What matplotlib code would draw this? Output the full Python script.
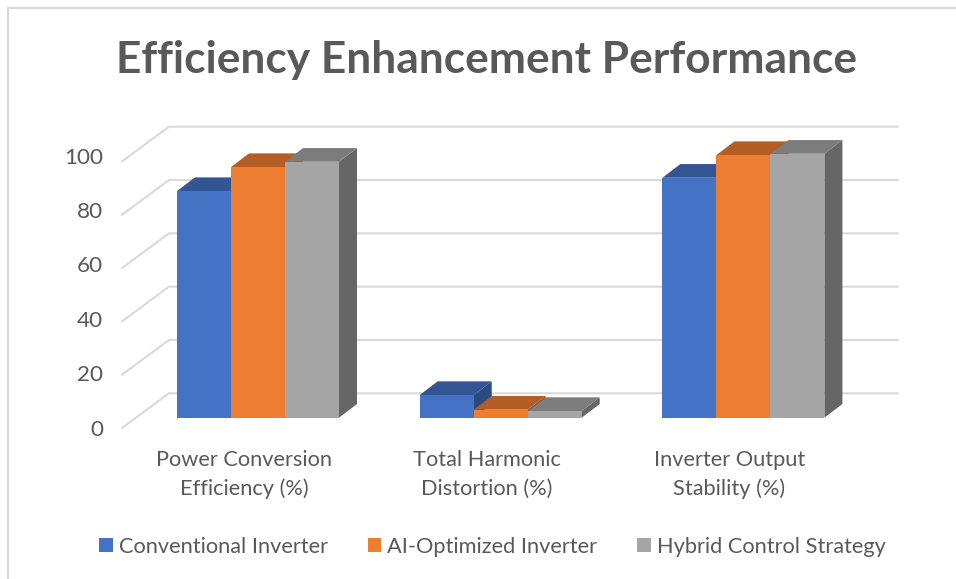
import matplotlib
matplotlib.use("Agg")
import matplotlib.pyplot as plt
from matplotlib.lines import Line2D

categories = ["Power Conversion\nEfficiency (%)", "Total Harmonic\nDistortion (%)", "Inverter Output\nStability (%)"]
series_names = ["Conventional Inverter", "AI-Optimized Inverter", "Hybrid Control Strategy"]
conventional = [85, 8.5, 90]
ai_optimized = [94, 3, 98.5]
hybrid = [96, 2.5, 99]
y_ticks = [0, 20, 40, 60, 80, 100]

front_colors = ["#4472C4", "#ED7D31", "#A5A5A5"]
top_colors = ["#335593", "#B25E25", "#7C7C7C"]
side_colors = ["#2A4A80", "#8F4B1E", "#666666"]
text_color = "#595959"
grid_color = "#D9D9D9"

W, H = 956, 579
plt.rcParams["font.family"] = ["Lato", "DejaVu Sans"]
fig = plt.figure(figsize=(W / 100, H / 100), dpi=100, facecolor="white")
ax = fig.add_axes([0, 0, 1, 1])

PX_X = 242.7      # pixels per category
PX_Y = 2.666      # pixels per value unit
X0, Y0 = 258.0, 417.7
ax.set_xlim((0 - X0) / PX_X, (W - X0) / PX_X)
ax.set_ylim((Y0 - H) / PX_Y, Y0 / PX_Y)
ax.axis("off")

def px_x(p):
    return (p - X0) / PX_X

def px_y(p):
    return (Y0 - p) / PX_Y

# outer frame
fig.add_artist(Line2D([8 / W, 8 / W], [0, 1 - 8 / H], color=grid_color, lw=1.5))
fig.add_artist(Line2D([8 / W, 1], [1 - 8 / H, 1 - 8 / H], color=grid_color, lw=1.5))

# 3D grid: wall lines
for v in y_ticks:
    back = px_y(393.3 - v * PX_Y)
    front = px_y(428.0 - v * PX_Y)
    ax.plot([px_x(122), px_x(169), px_x(897.7)], [front, back, back],
            color=grid_color, lw=1.5, zorder=1, solid_joinstyle="miter")
    ax.text(px_x(103), px_y(429.5 - v * 2.72), str(v), ha="right", va="center",
            fontsize=16.2, color=text_color)

bar_w = 54 / PX_X
dx = 18 / PX_X
dy = 13.7 / PX_Y
series = [conventional, ai_optimized, hybrid]
z = 2
handles = []
for i, (vals, name) in enumerate(zip(series, series_names)):
    for c, v in enumerate(vals):
        left = c + (i - 1.5) * bar_w
        right = left + bar_w
        ax.fill([right, right + dx, right + dx, right], [0, dy, v + dy, v],
                color=side_colors[i], lw=0, zorder=z)
        ax.fill([left, left + dx, right + dx, right], [v, v + dy, v + dy, v],
                color=top_colors[i], lw=0, zorder=z)
    cont = ax.bar([c + (i - 1) * bar_w for c in range(3)], vals, width=bar_w,
                  color=front_colors[i], lw=0, zorder=z + 0.5, label=name)
    handles.append(cont)
    z += 1

for c, lab in enumerate(categories):
    ax.text(c - 14 / PX_X, px_y(474.5), lab, ha="center", va="center", fontsize=15.7,
            color=text_color, linespacing=1.56)

fig.text(487 / W, 1 - 60.5 / H, "Efficiency Enhancement Performance", ha="center", va="center",
         fontsize=31.85, fontweight="bold", color=text_color)

fig.legend(handles=handles, labels=series_names, loc="center", bbox_to_anchor=(492.5 / W, 1 - 547 / H),
           ncol=3, frameon=False, fontsize=15.7, labelcolor=text_color, handlelength=0.6,
           handleheight=0.6, handletextpad=0.28, columnspacing=1.85, borderpad=0)

fig.savefig("out.png", dpi=100)
